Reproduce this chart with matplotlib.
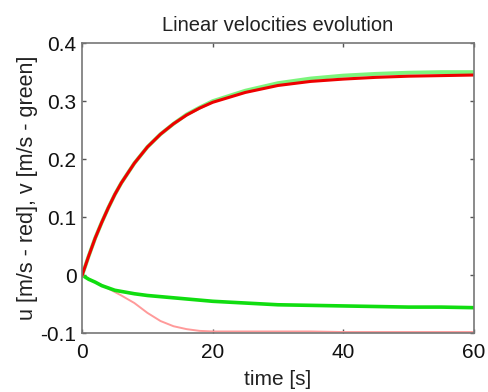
import matplotlib
matplotlib.use("Agg")
import matplotlib.pyplot as plt

plt.rcParams['font.family'] = ['Liberation Sans', 'DejaVu Sans']

# time samples [s]
t_up = [0, 1, 2, 3, 4, 5, 6, 8, 10, 12, 14, 16, 18, 20, 25, 30, 35, 40, 45, 50, 55, 60]
u_red_up = [0, 0.033, 0.064, 0.091, 0.116, 0.139, 0.159, 0.193, 0.221, 0.243, 0.261,
            0.276, 0.288, 0.298, 0.315, 0.327, 0.334, 0.338, 0.341, 0.343, 0.344, 0.345]
v_green_up = [0, 0.033, 0.064, 0.091, 0.116, 0.139, 0.159, 0.193, 0.221, 0.243, 0.261,
              0.277, 0.289, 0.300, 0.318, 0.331, 0.339, 0.344, 0.347, 0.349, 0.350, 0.350]

t_low = [0, 1, 2, 3, 4, 5, 6, 8, 10, 12, 14, 16, 18, 20, 25, 30, 35, 40, 45, 50, 55, 60]
v_green_low = [0, -0.007, -0.012, -0.018, -0.022, -0.026, -0.028, -0.032, -0.035, -0.037,
               -0.039, -0.041, -0.043, -0.045, -0.048, -0.051, -0.052, -0.053, -0.054,
               -0.055, -0.055, -0.056]
u_red_low = [0, -0.006, -0.012, -0.017, -0.023, -0.029, -0.035, -0.048, -0.065, -0.079,
             -0.088, -0.093, -0.096, -0.097, -0.097, -0.097, -0.097, -0.098, -0.098,
             -0.098, -0.098, -0.098]

xticks = [0, 20, 40, 60]
yticks = [-0.1, 0, 0.1, 0.2, 0.3, 0.4]
ytick_labels = ['-0.1', '0', '0.1', '0.2', '0.3', '0.4']

fig = plt.figure(figsize=(4.89, 3.92), dpi=100)
ax = fig.add_axes([0.168, 0.150, 0.801, 0.740])

ax.plot(t_low, u_red_low, color='#ff9a9a', lw=1.4, solid_capstyle='butt')
ax.plot(t_low, v_green_low, color='#10dd10', lw=2.6)
ax.plot(t_up, v_green_up, color='#7cf57c', lw=2.8)
ax.plot(t_up, u_red_up, color='#ee0000', lw=2.2)

ax.set_xlim(0, 60)
ax.set_ylim(-0.1, 0.4)
ax.set_xticks(xticks)
ax.set_xticklabels([str(x) for x in xticks])
ax.set_yticks(yticks)
ax.set_yticklabels(ytick_labels)
ax.tick_params(direction='in', length=3, width=1, colors='#555555', labelcolor='#111111',
               labelsize=15, top=True, right=True)
ax.tick_params(axis='y', pad=4)
ax.tick_params(axis='x', pad=7)
for s in ax.spines.values():
    s.set_color('#777777')
    s.set_linewidth(1.2)

ax.set_title('Linear velocities evolution', fontsize=14.5, pad=9, color='#222222')
ax.set_xlabel('time [s]', fontsize=15, labelpad=6, color='#222222')
ax.set_ylabel('u [m/s - red], v [m/s - green]', fontsize=15.5, labelpad=2, color='#222222')

fig.savefig('out.png', dpi=100)
